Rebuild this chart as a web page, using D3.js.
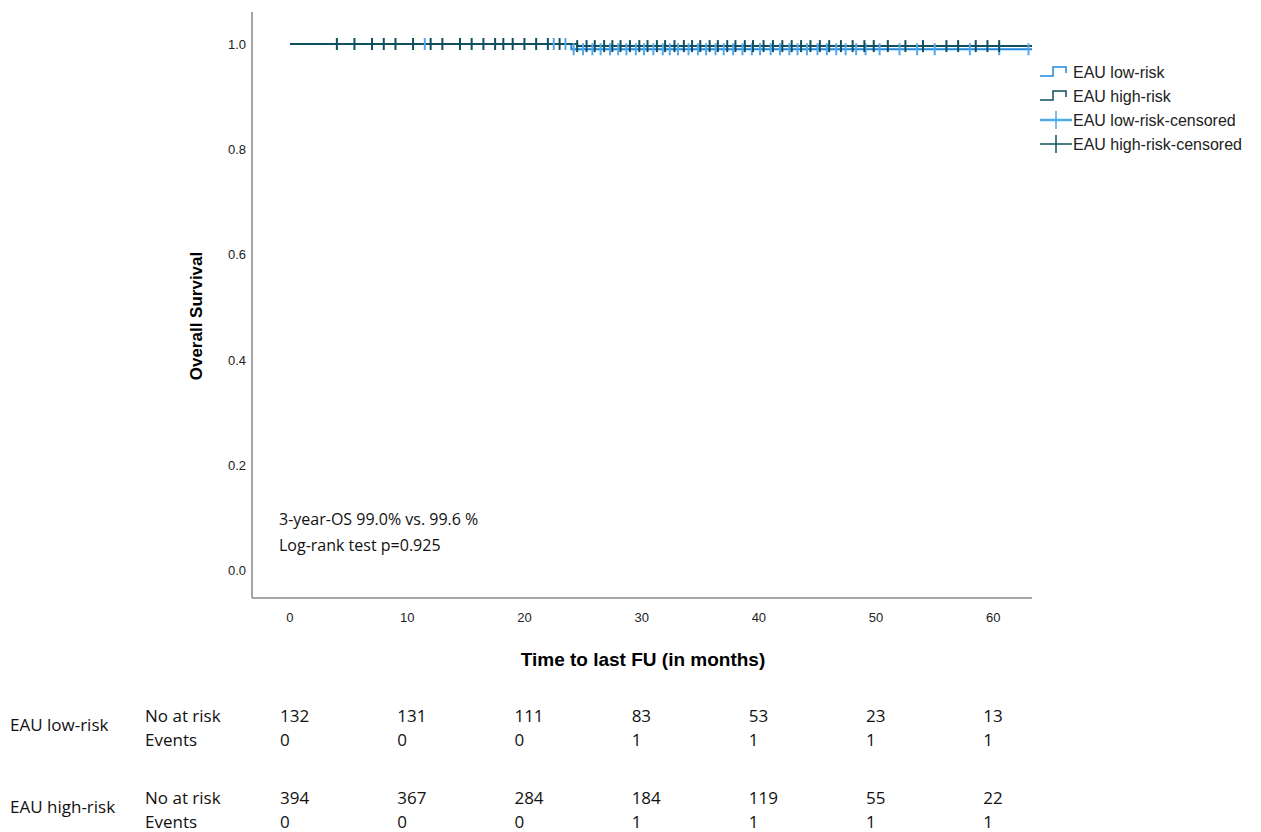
<!DOCTYPE html>
<html><head><meta charset="utf-8">
<script src="https://cdn.jsdelivr.net/npm/d3@7"></script>
<style>body{margin:0;background:#fff}</style>
</head><body>
<script>
// survival steps [time, survival]
var lowSteps = [[0, 1.0], [24, 0.990], [63.3, 0.990]];
var highSteps = [[0, 1.0], [24.5, 0.996], [63.3, 0.996]];
// censored times
var lowCens = [11.5, 22.5, 23.5, 24.2, 25, 25.8, 26.5, 27.3, 28, 28.7, 29.5, 30.2, 31, 31.8, 32.4, 33.1, 34, 34.8, 35.5, 36.3, 37, 37.8, 38.6, 39.4, 40.1, 41, 41.8, 42.6, 43.3, 44.1, 45, 45.8, 46.6, 47.4, 48.3, 49.1, 50.3, 52, 53.5, 55, 58, 60.5, 63];
var highCens = [4, 5.5, 7, 8, 9, 10.5, 12, 13, 14.5, 15.5, 16.5, 17.5, 18.2, 19, 20, 21, 22, 23, 24.5, 25.3, 26, 26.8, 27.5, 28.2, 29, 29.8, 30.5, 31.3, 32, 32.8, 33.6, 34.3, 35, 35.8, 36.5, 37.3, 38, 38.8, 39.5, 40.4, 41.2, 42, 42.8, 43.6, 44.4, 45.2, 46, 47, 48, 49, 49.8, 51, 52.5, 54, 56, 57, 58.5, 59.5, 60.5];
var xTicks = [0, 10, 20, 30, 40, 50, 60];
var yTicks = [0.0, 0.2, 0.4, 0.6, 0.8, 1.0];
var legendLabels = ["EAU low-risk", "EAU high-risk", "EAU low-risk-censored", "EAU high-risk-censored"];
var groups = ["EAU low-risk", "EAU high-risk"];
var atRiskLow = [132, 131, 111, 83, 53, 23, 13];
var eventsLow = [0, 0, 0, 1, 1, 1, 1];
var atRiskHigh = [394, 367, 284, 184, 119, 55, 22];
var eventsHigh = [0, 0, 0, 1, 1, 1, 1];

var lowCol = "#1e88e0", highCol = "#0f4f5f", lowCensCol = "#52a9ec";

var svg = d3.select("body").append("svg").attr("width", 1261).attr("height", 832);
var x = d3.scaleLinear().domain([-3.24, 63.3]).range([252, 1032]);
var y = d3.scaleLinear().domain([0, 1]).range([570, 44]);

// axes frame
svg.append("line").attr("x1", 252).attr("x2", 252).attr("y1", 12).attr("y2", 598).attr("stroke", "#888").attr("stroke-width", 1.5);
svg.append("line").attr("x1", 252).attr("x2", 1032).attr("y1", 598).attr("y2", 598).attr("stroke", "#888").attr("stroke-width", 1.5);

svg.selectAll(".yt").data(yTicks).enter().append("text")
  .attr("x", 246).attr("y", d => y(d) + 5).attr("text-anchor", "end")
  .attr("font-family", "Liberation Sans, Arial").attr("font-size", 13).attr("fill", "#222")
  .text(d => d.toFixed(1));
svg.selectAll(".xt").data(xTicks).enter().append("text")
  .attr("x", d => x(d)).attr("y", 622).attr("text-anchor", "middle")
  .attr("font-family", "Liberation Sans, Arial").attr("font-size", 13).attr("fill", "#222")
  .text(d => d);

svg.append("text").attr("transform", "translate(202,316) rotate(-90)").attr("text-anchor", "middle")
  .attr("font-family", "Liberation Sans, Arial").attr("font-weight", "bold").attr("font-size", 17).text("Overall Survival");
svg.append("text").attr("x", 643).attr("y", 666).attr("text-anchor", "middle")
  .attr("font-family", "Liberation Sans, Arial").attr("font-weight", "bold").attr("font-size", 19).text("Time to last FU (in months)");

var line = d3.line().x(d => x(d[0])).y(d => y(d[1])).curve(d3.curveStepAfter);
svg.append("path").attr("d", line(lowSteps)).attr("fill", "none").attr("stroke", lowCol).attr("stroke-width", 2);
svg.append("path").attr("d", line(highSteps)).attr("fill", "none").attr("stroke", highCol).attr("stroke-width", 2);

function survAt(steps, t) { var s = steps[0][1]; steps.forEach(p => { if (t >= p[0]) s = p[1]; }); return s; }
svg.selectAll(".lc").data(lowCens).enter().append("line")
  .attr("x1", d => x(d)).attr("x2", d => x(d))
  .attr("y1", d => y(survAt(lowSteps, d)) - 6).attr("y2", d => y(survAt(lowSteps, d)) + 6)
  .attr("stroke", lowCensCol).attr("stroke-width", 2);
svg.selectAll(".hc").data(highCens).enter().append("line")
  .attr("x1", d => x(d)).attr("x2", d => x(d))
  .attr("y1", d => y(survAt(highSteps, d)) - 6).attr("y2", d => y(survAt(highSteps, d)) + 6)
  .attr("stroke", highCol).attr("stroke-width", 2);

// legend
var lg = svg.append("g").attr("font-family", "Liberation Sans, Arial").attr("font-size", 16).attr("fill", "#222");
legendLabels.forEach(function (l, i) {
  var yy = 72 + i * 24, c = [lowCol, highCol, lowCensCol, highCol][i];
  if (i < 2) {
    lg.append("path").attr("d", `M1040,${yy + 4}h13v-9h13v6`).attr("fill", "none").attr("stroke", c).attr("stroke-width", 1.5);
  } else {
    lg.append("line").attr("x1", 1040).attr("x2", 1072).attr("y1", yy).attr("y2", yy).attr("stroke", c).attr("stroke-width", i == 2 ? 2.5 : 1.5);
    lg.append("line").attr("x1", 1056).attr("x2", 1056).attr("y1", yy - 9).attr("y2", yy + 9).attr("stroke", c).attr("stroke-width", 1.5);
  }
  lg.append("text").attr("x", 1073).attr("y", yy + 6).text(l);
});

// annotation
var ann = svg.append("g").attr("font-family", "Open Sans, sans-serif").attr("font-size", 16).attr("fill", "#111");
ann.append("text").attr("x", 279).attr("y", 525).text("3-year-OS 99.0% vs. 99.6 %");
ann.append("text").attr("x", 279).attr("y", 551).text("Log-rank test p=0.925");

// risk table
var tb = svg.append("g").attr("font-family", "Open Sans, sans-serif").attr("font-size", 17).attr("fill", "#111");
[[atRiskLow, eventsLow, 722], [atRiskHigh, eventsHigh, 804]].forEach(function (r, gi) {
  tb.append("text").attr("x", 10).attr("y", r[2] + 9).text(groups[gi]);
  tb.append("text").attr("x", 145).attr("y", r[2]).text("No at risk");
  tb.append("text").attr("x", 145).attr("y", r[2] + 24).text("Events");
  xTicks.forEach(function (t, j) {
    tb.append("text").attr("x", x(t) - 10).attr("y", r[2]).text(r[0][j]);
    tb.append("text").attr("x", x(t) - 10).attr("y", r[2] + 24).text(r[1][j]);
  });
});
</script>
</body></html>
